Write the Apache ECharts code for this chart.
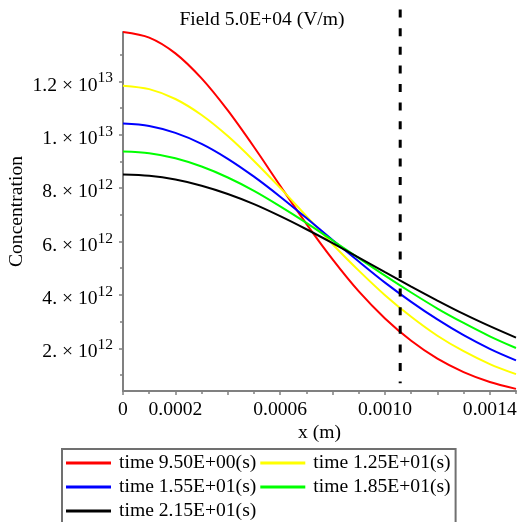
<!DOCTYPE html>
<html>
<head>
<meta charset="utf-8">
<script src="https://cdn.jsdelivr.net/npm/echarts@6/dist/echarts.min.js"></script>
<style>
html,body{margin:0;padding:0;background:#fff;}
#chart{width:517px;height:522px;}
</style>
</head>
<body>
<div id="chart"></div>
<script>
// x positions (m)
const xValues = [0, 0.0001, 0.0002, 0.0003, 0.0004, 0.0005, 0.0006, 0.0007, 0.0008, 0.0009, 0.0010, 0.0011, 0.0012, 0.0013, 0.0014, 0.0015];
// concentrations in units of 1e12
const seriesNames = ['time 9.50E+00(s)', 'time 1.25E+01(s)', 'time 1.55E+01(s)', 'time 1.85E+01(s)', 'time 2.15E+01(s)'];
const seriesColors = ['#ff0000', '#ffff00', '#0000ff', '#00ff00', '#000000'];
const t095 = [13.85, 13.64, 13.05, 12.11, 10.91, 9.54, 8.09, 6.66, 5.33, 4.13, 3.12, 2.28, 1.61, 1.11, 0.74, 0.48];
const t125 = [11.84, 11.71, 11.34, 10.74, 9.95, 9.02, 8.01, 6.95, 5.90, 4.91, 3.99, 3.18, 2.47, 1.89, 1.41, 1.03];
const t155 = [10.42, 10.33, 10.07, 9.66, 9.10, 8.43, 7.68, 6.88, 6.06, 5.25, 4.46, 3.74, 3.08, 2.49, 1.98, 1.55];
const t185 = [9.37, 9.31, 9.12, 8.81, 8.40, 7.90, 7.32, 6.70, 6.04, 5.38, 4.72, 4.09, 3.49, 2.95, 2.45, 2.01];
const t215 = [8.51, 8.46, 8.32, 8.09, 7.78, 7.40, 6.95, 6.46, 5.94, 5.40, 4.85, 4.31, 3.79, 3.29, 2.83, 2.40];
const seriesValues = [t095, t125, t155, t185, t215];

// dashed marker line (x, y top, y bottom)
const markerX = [0.001058, 0.001058];
const markerY = [14.69, 0.69];

// axis ticks / labels
const xTickMajor = [0, 0.0002, 0.0004, 0.0006, 0.0008, 0.0010, 0.0012, 0.0014];
const xTickMinor = [0.0001, 0.0003, 0.0005, 0.0007, 0.0009, 0.0011, 0.0013, 0.0015];
const xLabelValues = [0, 0.0002, 0.0006, 0.0010, 0.0014];
const xLabelTexts = ['0', '0.0002', '0.0006', '0.0010', '0.0014'];
const yTickMajor = [2, 4, 6, 8, 10, 12];
const yTickMinor = [1, 3, 5, 7, 9, 11, 13];
const yMantissa = ['2.', '4.', '6.', '8.', '1.', '1.2'];
const yExponent = ['12', '12', '12', '12', '13', '13'];

const FONT = 'Liberation Serif';
const FS = 19.6;
const AX = '#808080';

const chart = echarts.init(document.getElementById('chart'), null, {renderer: 'canvas'});

const series = seriesNames.map((n, i) => ({
  name: n,
  type: 'line',
  data: xValues.map((x, j) => [x, seriesValues[i][j]]),
  showSymbol: false,
  smooth: 0.3,
  lineStyle: {color: seriesColors[i], width: 2},
  itemStyle: {color: seriesColors[i]},
  xAxisIndex: 0, yAxisIndex: 0,
  z: 3
}));
series.push({
  type: 'line',
  data: markerX.map((x, i) => [x, markerY[i]]),
  showSymbol: false,
  clip: false,
  lineStyle: {color: '#000', width: 3, type: [8, 10.6]},
  xAxisIndex: 0, yAxisIndex: 0,
  silent: true,
  z: 4
});

const option = {
  animation: false,
  backgroundColor: '#fff',
  title: {
    text: 'Field 5.0E+04 (V/m)',
    left: 262, top: 10, textAlign: 'center', padding: 0,
    textStyle: {fontFamily: FONT, fontSize: FS, fontWeight: 'normal', color: '#000'}
  },
  grid: {left: 123, right: 1, top: 32, bottom: 131, containLabel: false, outerBoundsMode: 'none'},
  legend: {
    data: seriesNames,
    orient: 'horizontal',
    left: 62, top: 449, width: 395,
    itemWidth: 45, itemHeight: 3, itemGap: 4,
    icon: 'rect',
    padding: [4, 5, 3, 4],
    borderColor: '#707070', borderWidth: 2,
    textStyle: {fontFamily: FONT, fontSize: FS, lineHeight: 19, color: '#000', width: 137, padding: [0, 0, 0, 3]}
  },
  xAxis: [{
    type: 'value', min: 0, max: 0.0015,
    name: 'x (m)', nameLocation: 'middle', nameGap: 32, nameMoveOverlap: false,
    nameTextStyle: {fontFamily: FONT, fontSize: FS, color: '#000'},
    axisLine: {show: true, lineStyle: {color: AX, width: 2}},
    axisTick: {show: true, length: 4, lineStyle: {color: AX, width: 1.5}, customValues: xTickMajor},
    axisLabel: {
      margin: 9, fontFamily: FONT, fontSize: FS, color: '#000',
      customValues: xLabelValues,
      formatter: v => { const k = xLabelValues.findIndex(a => Math.abs(a - v) < 1e-9); return k >= 0 ? xLabelTexts[k] : ''; }
    },
    splitLine: {show: false}
  }, {
    type: 'value', min: 0, max: 0.0015, position: 'bottom',
    axisLine: {show: false},
    axisTick: {show: true, length: 3, lineStyle: {color: AX, width: 1.5}, customValues: xTickMinor},
    axisLabel: {show: false},
    splitLine: {show: false}
  }],
  yAxis: [{
    type: 'value', min: 0.4, max: 13.85,
    name: 'Concentration', nameLocation: 'middle', nameGap: 96, nameMoveOverlap: false,
    nameTextStyle: {fontFamily: FONT, fontSize: FS, color: '#000'},
    axisLine: {show: true, lineStyle: {color: AX, width: 2}},
    axisTick: {show: true, length: 4, lineStyle: {color: AX, width: 1.5}, customValues: yTickMajor},
    axisLabel: {
      margin: 10, color: '#000',
      customValues: yTickMajor,
      formatter: v => { const k = yTickMajor.findIndex(a => Math.abs(a - v) < 1e-9); return k >= 0 ? '{m|' + yMantissa[k] + ' × 10}{s|' + yExponent[k] + '}' : ''; },
      rich: {
        m: {fontFamily: FONT, fontSize: FS, lineHeight: 19, padding: [8, 0, 0, 0], color: '#000'},
        s: {fontFamily: FONT, fontSize: 15.5, lineHeight: 15, padding: [0, 0, 6, 0], color: '#000'}
      }
    },
    splitLine: {show: false}
  }, {
    type: 'value', min: 0.4, max: 13.85, position: 'left',
    axisLine: {show: false},
    axisTick: {show: true, length: 3, lineStyle: {color: AX, width: 1.5}, customValues: yTickMinor},
    axisLabel: {show: false},
    splitLine: {show: false}
  }],
  series: series
};
chart.setOption(option);
</script>
</body>
</html>
